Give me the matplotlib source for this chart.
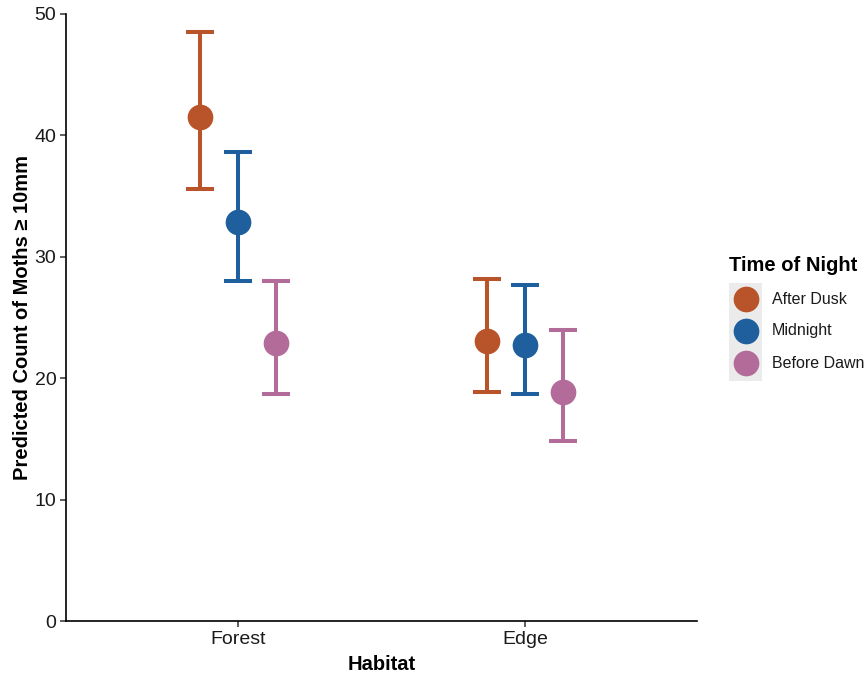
import matplotlib.pyplot as plt
from matplotlib.lines import Line2D
from matplotlib.patches import Rectangle
import numpy as np

plt.rcParams['font.family'] = ['Liberation Sans', 'DejaVu Sans']

habitats = ["Forest", "Edge"]
times = ["After Dusk", "Midnight", "Before Dawn"]
colors = ["#B9532A", "#1F5F9E", "#B36C9A"]

# predicted counts with lower / upper confidence limits, per time of night
pred = {
    "After Dusk":  [41.5, 23.1],
    "Midnight":    [32.9, 22.7],
    "Before Dawn": [22.9, 18.9],
}
lower = {
    "After Dusk":  [35.6, 18.9],
    "Midnight":    [28.0, 18.7],
    "Before Dawn": [18.7, 14.8],
}
upper = {
    "After Dusk":  [48.5, 28.2],
    "Midnight":    [38.6, 27.7],
    "Before Dawn": [28.0, 24.0],
}

W, H = 866, 673
fig = plt.figure(figsize=(W / 100, H / 100), dpi=100)
ax = fig.add_axes([66 / W, 1 - 621 / H, (697 - 66) / W, (621 - 14) / H])

x = np.arange(1, len(habitats) + 1)
dodge = 0.4
offsets = (np.arange(len(times)) - 1) * dodge / 3

for t, c, off in zip(times, colors, offsets):
    y = np.array(pred[t])
    lo = y - np.array(lower[t])
    hi = np.array(upper[t]) - y
    ax.errorbar(x + off, y, yerr=[lo, hi], fmt='none', ecolor=c,
                elinewidth=2.9, capsize=10, capthick=2.9, zorder=2)
    ax.plot(x + off, y, 'o', color=c, markersize=18.5, markeredgewidth=0, zorder=3)

ax.set_xlim(0.4, 2.6)
ax.set_ylim(0, 50)
ax.set_xticks(x)
ax.set_xticklabels(habitats)
ax.set_yticks([0, 10, 20, 30, 40, 50])

for s in ["top", "right"]:
    ax.spines[s].set_visible(False)
for s in ["left", "bottom"]:
    ax.spines[s].set_linewidth(1.2)
    ax.spines[s].set_color("black")

ax.tick_params(axis='both', length=4, width=1.1, color="#333333",
               labelsize=14, labelcolor="#1a1a1a", pad=3)

ax.set_xlabel("Habitat", fontsize=14.5, fontweight='bold', labelpad=5)
ax.set_ylabel("Predicted Count of Moths \u2265 10mm", fontsize=14.5,
              fontweight='bold', labelpad=2)

# legend drawn in figure pixel coordinates
def fx(px):
    return px / W

def fy(py):
    return 1 - py / H

fig.text(fx(729), fy(266), "Time of Night", fontsize=14.5, fontweight='bold',
         ha='left', va='center')
fig.add_artist(Rectangle((fx(729), fy(381)), 33 / W, 98 / H,
                         transform=fig.transFigure, facecolor="#EBEBEB",
                         edgecolor='none', zorder=0))
key_y = [299, 331, 363]
for t, c, ky in zip(times, colors, key_y):
    fig.add_artist(Line2D([fx(746)], [fy(ky)], marker='o', linestyle='none',
                          color=c, markersize=18.5, markeredgewidth=0,
                          transform=fig.transFigure, zorder=1))
    fig.text(fx(772), fy(ky), t, fontsize=11.5, ha='left', va='center',
             color="#1a1a1a")

fig.savefig("out.png", dpi=100)
